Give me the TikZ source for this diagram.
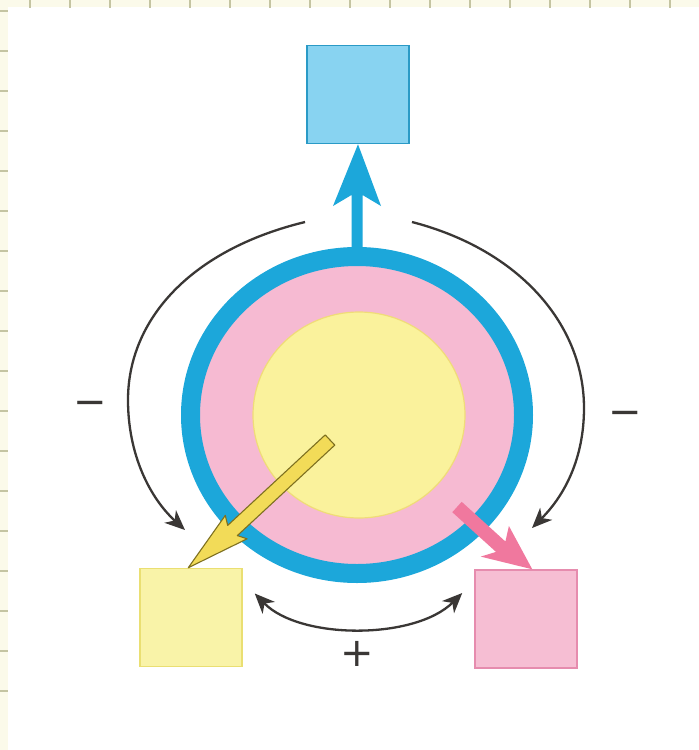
\documentclass[tikz,border=0pt]{standalone}
\usepackage{fontspec}
\newfontfamily\signfont{DejaVu Sans}
\usetikzlibrary{arrows.meta,shapes.geometric}
\definecolor{cream}{HTML}{FBFAEA}
\definecolor{tickc}{HTML}{C4C4A2}
\definecolor{ringblue}{HTML}{1CA7DA}
\definecolor{sqblue}{HTML}{88D3F1}
\definecolor{sqblueedge}{HTML}{2A9AC6}
\definecolor{discpink}{HTML}{F6BAD2}
\definecolor{sqpink}{HTML}{F6BED3}
\definecolor{sqpinkedge}{HTML}{E68CAE}
\definecolor{arrpink}{HTML}{F0789E}
\definecolor{coreyel}{HTML}{FAF29C}
\definecolor{coreyeledge}{HTML}{F0DC78}
\definecolor{sqyel}{HTML}{F9F3A8}
\definecolor{sqyeledge}{HTML}{EADF72}
\definecolor{arryel}{HTML}{F2DB58}
\definecolor{arryeledge}{HTML}{7E7020}
\definecolor{ink}{HTML}{3A3735}
\tikzset{
  sq/.style={rectangle, minimum width=102pt, minimum height=98pt, line width=1.5pt, inner sep=0pt},
  tipst/.style={Stealth[length=20pt,width=17pt,inset=6pt]},
  curarrow/.style={draw=ink, line width=2.3pt, -{Stealth[length=20pt,width=17pt,inset=6pt]}},
  sign/.style={text=ink, font=\signfont\fontsize{40}{40}\selectfont, inner sep=0pt},
  tick/.style={draw=tickc, line width=1.3pt}
}
\begin{document}
\begin{tikzpicture}[x=1pt,y=-1pt]
\useasboundingbox (0,0) rectangle (699,750);
\fill[white] (0,0) rectangle (699,750);
% scan margin
\fill[cream] (0,0) rectangle (699,7);
\fill[cream] (0,0) rectangle (8,750);
\foreach \i in {0,...,16} {\draw[tick] (30+40*\i,0) -- (30+40*\i,8);}
\foreach \i in {0,...,17} {\draw[tick] (0,11+40*\i) -- (8,11+40*\i);}

% cell: membrane ring, cytoplasm, nucleus
\node[ellipse, minimum width=333pt, minimum height=317pt, fill=discpink, draw=ringblue, line width=19pt, inner sep=0pt] (cell) at (357,415) {};
\node[ellipse, minimum width=212pt, minimum height=206pt, fill=coreyel, draw=coreyeledge, line width=1.2pt, inner sep=0pt] (core) at (359,415) {};

% squares
\node[sq, fill=sqblue, draw=sqblueedge] (blue) at (358,94.5) {};
\node[sq, fill=sqyel, draw=sqyeledge] (yel) at (191,617.5) {};
\node[sq, fill=sqpink, draw=sqpinkedge] (pink) at (526,619) {};

% blue arrow up
\fill[ringblue] (351.5,252) -- (351.5,195) -- (333,206) -- (blue.south) -- (381,206) -- (362.5,195) -- (362.5,252) -- cycle;

% yellow arrow
\filldraw[fill=arryel, draw=arryeledge, line width=1.1pt, line join=round]
  (325.2,434.9) -- (227.7,525.4) -- (225.3,515.4) -- ([xshift=49pt]yel.north west) -- (247.1,538.8) -- (237.3,535.6) -- (334.8,445.1) -- cycle;

% pink arrow
\fill[arrpink] (461.7,501.8) -- (505.4,541.5) -- (508.9,526.0) -- ([xshift=58pt]pink.north west) -- (480.7,556.6) -- (496.0,551.9) -- (452.3,512.2) -- cycle;

% curved black arrows
\coordinate (ls) at (305,222);
\coordinate (le) at (185,530);
\coordinate (rs) at (412,222);
\coordinate (re) at (532,528);
\draw[curarrow] (ls) .. controls (190,250) and (128,320) .. (128,400) .. controls (128,455) and (150,498) .. (le);
\draw[curarrow] (rs) .. controls (520,250) and (584,325) .. (584,408) .. controls (584,458) and (565,495) .. (re);
\draw[draw=ink, line width=2.3pt, {Stealth[length=20pt,width=17pt,inset=6pt]}-{Stealth[length=20pt,width=17pt,inset=6pt]}]
  ([xshift=12pt,yshift=24pt]yel.east) .. controls (300,640) and (415,640) .. ([xshift=-12pt,yshift=26pt]pink.west);

% signs
\node[sign] (mL) at (90,408) {−};
\node[sign] (mR) at (625,418) {−};
\node[sign] (pl) at (357,654) {+};
\end{tikzpicture}
\end{document}
